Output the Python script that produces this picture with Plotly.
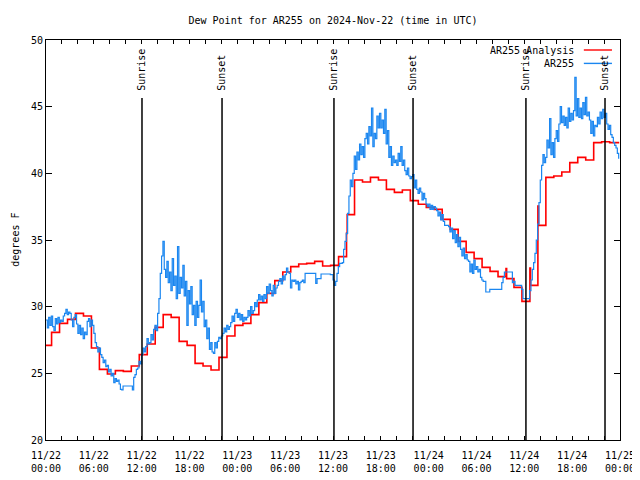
import pandas as pd
import plotly.graph_objects as go

BASE = pd.Timestamp("2024-11-22 00:00")

# Observed dew point (AR255), 10-minute samples, one row per hour (deg F)
blue_vals = [
    29.0, 28.4, 29.2, 28.6, 29.3, 28.5,
    28.2, 29.1, 28.7, 29.2, 28.8, 29.0,
    28.9, 29.3, 29.5, 29.8, 29.4, 29.6,
    29.5, 29.0, 28.5, 29.2, 29.4, 28.7,
    28.0, 28.6, 27.9, 28.4, 27.6, 28.1,
    27.9, 28.9, 29.1, 28.5, 29.0, 28.6,
    28.0, 27.3, 27.0, 26.6, 26.9, 26.4,
    26.2, 25.8, 26.0, 25.5, 25.6, 25.1,
    25.3, 24.8, 25.0, 24.3, 24.6, 24.4,
    24.5, 24.2, 23.8, 23.75, 24.05, 24.05,
    24.05, 24.05, 24.05, 24.05, 24.05, 23.75,
    24.7, 24.9, 25.3, 25.4, 25.9, 25.7,
    26.4, 26.9, 26.6, 27.0, 27.6, 27.2,
    27.3, 27.9, 27.5, 28.3, 28.6, 28.2,
    29.5, 30.6, 32.5, 33.8, 34.9, 32.8,
    32.2, 33.4, 31.8, 32.6, 31.2, 33.6,
    31.6, 32.3, 30.6, 34.5, 31.0, 32.2,
    31.4, 33.1, 30.8, 31.9, 28.6, 31.2,
    30.2, 31.5, 29.4, 30.1, 28.6, 30.4,
    29.2, 30.1, 32.0, 29.6, 30.4, 28.5,
    29.0, 27.6, 28.4, 26.8, 27.3, 26.6,
    26.5, 27.3, 26.9, 27.4, 27.7, 27.6,
    27.8, 28.0, 28.4, 28.1, 28.6, 28.3,
    28.5, 28.8, 29.3, 28.9, 29.5, 29.8,
    29.2, 29.5, 29.0, 29.4, 28.9, 29.2,
    29.0, 29.2, 29.7, 29.3, 30.0, 29.5,
    29.7, 30.3, 30.0, 30.5, 30.9, 30.5,
    30.8, 30.4, 30.9, 30.6, 31.5, 31.0,
    31.7, 31.2, 30.8, 31.6, 31.0, 31.4,
    31.6, 31.9, 32.1, 31.7, 32.3, 32.0,
    32.4, 32.9, 32.6, 32.5, 31.4, 32.0,
    31.9, 32.0, 31.7, 31.9, 31.25, 31.8,
    31.9, 32.0, 31.8, 32.5, 32.5, 32.5,
    32.5, 32.5, 32.5, 32.5, 32.5, 31.75,
    32.1, 32.1, 32.1, 32.45, 32.45, 32.45,
    32.45, 32.45, 32.45, 32.45, 32.4, 32.4,
    32.0, 31.6, 31.9, 32.5, 33.0, 33.25,
    33.25, 33.3, 34.3, 34.9, 35.5, 37.0,
    38.3, 39.5, 39.0, 40.0, 41.3, 40.3,
    41.6, 41.0, 42.2, 41.4, 42.0, 41.2,
    42.6, 43.0, 42.2, 43.5, 42.8, 44.9,
    42.0, 43.0, 42.6, 44.3, 43.4, 44.5,
    43.4, 44.0, 43.0, 44.8, 42.2, 43.2,
    41.2, 42.0, 40.6, 41.3, 40.8, 41.0,
    40.6, 41.5, 40.9, 42.0, 40.6, 41.0,
    40.2, 39.9, 40.4, 39.8, 39.6, 39.75,
    39.9, 38.9, 39.5, 38.8, 38.5, 38.9,
    38.6, 38.0, 38.5, 38.1, 37.7, 37.5,
    37.7, 37.3, 37.6, 37.3, 37.5, 37.4,
    37.2, 36.8, 37.1, 36.5, 36.9, 36.4,
    36.1, 36.1, 36.1, 36.0, 35.6, 35.9,
    35.1, 35.7, 34.8, 35.4, 34.5, 35.2,
    34.3, 33.8, 34.4, 33.6, 33.9, 33.5,
    33.4, 32.6, 33.2, 32.5, 33.5, 32.8,
    33.0, 32.6, 32.8, 32.2, 32.0, 31.9,
    31.9, 31.1, 31.1, 31.1, 31.3, 31.3,
    31.3, 31.3, 31.3, 31.3, 31.3, 31.3,
    31.3, 31.8, 32.2, 32.6, 32.6, 32.6,
    32.6, 32.6, 32.6, 31.8, 31.9, 31.6,
    31.6, 31.6, 31.6, 31.6, 31.3, 30.6,
    30.6, 30.6, 30.6, 30.6, 31.2, 32.0,
    32.8, 33.3, 34.0, 35.0, 36.2, 37.8,
    39.5, 40.6, 41.4, 40.8, 41.2, 42.5,
    41.9, 44.1, 41.4, 42.3, 41.2, 42.6,
    43.2, 42.4, 43.7, 45.0, 43.8, 44.3,
    43.6, 44.2, 43.4, 44.9, 43.9, 44.5,
    44.0, 44.7, 47.2, 44.3, 45.6, 44.2,
    44.9, 44.1, 45.3, 44.4, 45.7, 44.3,
    44.6, 44.0, 43.0, 43.9, 42.8, 43.6,
    43.5, 44.2, 43.7, 44.6, 44.1, 44.8,
    44.2, 44.5, 43.7, 43.3, 43.6, 42.9,
    42.7, 42.3, 42.1, 41.9, 41.5, 41.1,
]
blue_hours = [i / 6 for i in range(len(blue_vals))]

# Analysis dew point (AR255 Analysis): hours after 11/22 00:00 and values (deg F)
red_hours = [
    -0.3, 0.7, 1.7, 2.7, 3.7, 4.7, 5.7, 6.7, 7.7, 8.7, 9.7, 10.7, 11.7, 12.7,
    13.7, 14.7, 15.7, 16.7, 17.7, 18.7, 19.7, 20.7, 21.7, 22.7, 23.7, 24.7,
    25.7, 26.7, 27.7, 28.7, 29.7, 30.7, 31.7, 32.7, 33.7, 34.7, 35.7, 36.7,
    37.7, 37.78, 38.7, 39.7, 40.7, 41.7, 42.7, 43.7, 44.7, 45.7, 46.7, 47.7,
    48.7, 49.7, 50.7, 51.7, 52.7, 53.7, 54.7, 55.7, 56.7, 57.7, 57.78, 58.7,
    59.7, 60.7, 60.78, 61.7, 61.78, 62.7, 63.7, 64.7, 65.7, 66.7, 67.7, 68.7,
    69.7, 70.7, 71.7, 71.9,
]
red_vals = [
    27.1, 28.07, 28.75, 29.05, 29.5, 29.3, 26.9, 25.3, 24.95, 25.2, 25.15, 25.55, 26.4, 27.2,
    28.45, 29.4, 29.2, 27.4, 27.1, 25.75, 25.55, 25.25, 26.2, 27.8, 28.6, 28.75,
    29.4, 30.3, 31.0, 31.95, 32.6, 33.0, 33.2, 33.25, 33.4, 33.05, 33.1, 33.75,
    35.5, 36.9, 39.5, 39.35, 39.7, 39.5, 38.8, 38.57, 38.75, 37.95, 37.68, 37.45,
    37.3, 36.55, 35.8, 34.9, 34.07, 33.6, 32.95, 32.65, 32.25, 32.85, 32.1, 31.45,
    30.4, 32.9, 31.6, 37.55, 36.1, 39.7, 39.8, 40.1, 40.8, 41.2, 41.0, 42.3,
    42.37, 42.3, 42.3, 42.3,
]

# Sunrise / sunset markers (hours after 11/22 00:00)
sun_hours = [12.04, 22.08, 36.12, 46.04, 60.2, 70.12]
sun_labels = ["Sunrise", "Sunset", "Sunrise", "Sunset", "Sunrise", "Sunset"]

y_ticks = [20, 25, 30, 35, 40, 45, 50]


def to_time(hours):
    return [BASE + pd.Timedelta(hours=h) for h in hours]


FONT = "DejaVu Sans Mono"
FS = 10
RED = "#ff0000"
BLUE = "#1a86f0"

# the page body has an 8px margin; size the figure so the plot lands where the reference has it
W, H = 632, 472

fig = go.Figure()
fig.add_trace(go.Scatter(
    x=to_time(red_hours), y=red_vals, mode="lines", line_shape="hv",
    line=dict(color=RED, width=1.6), name="AR255 Analysis", showlegend=False,
))
fig.add_trace(go.Scatter(
    x=to_time(blue_hours), y=blue_vals, mode="lines", line_shape="hv",
    line=dict(color=BLUE, width=1.2), name="AR255", showlegend=False,
))

for h, lab in zip(sun_hours, sun_labels):
    t = BASE + pd.Timedelta(hours=h)
    fig.add_shape(type="line", xref="x", yref="paper", x0=t, x1=t, y0=0, y1=0.855,
                  line=dict(color="black", width=1.5))
    fig.add_annotation(x=t, xref="x", y=0.868, yref="paper", text=lab, textangle=-90,
                       showarrow=False, xanchor="center", yanchor="bottom",
                       font=dict(family=FONT, size=FS, color="black"))

# legend (gnuplot style: text right-aligned, then line sample)
for i, (lab, col) in enumerate([("AR255 Analysis", RED), ("AR255", BLUE)]):
    yy = 0.975 - i * 0.0335
    fig.add_annotation(x=0.924, xref="paper", y=yy, yref="paper", text=lab,
                       showarrow=False, xanchor="right", yanchor="middle",
                       font=dict(family=FONT, size=FS, color="black"))
    fig.add_shape(type="line", xref="paper", yref="paper", x0=0.937, x1=0.986,
                  y0=yy, y1=yy, line=dict(color=col, width=1.4))

fig.add_annotation(x=-0.0545, xref="paper", y=0.5, yref="paper", text="degrees F",
                   textangle=-90, showarrow=False, xanchor="center", yanchor="middle",
                   font=dict(family=FONT, size=FS, color="black"))

fig.update_layout(
    width=W, height=H,
    margin=dict(l=38, r=20, t=32, b=40, autoexpand=False),
    paper_bgcolor="white", plot_bgcolor="white",
    font=dict(family=FONT, size=FS, color="black"),
    title=dict(text="Dew Point for AR255 on 2024-Nov-22 (time in UTC)",
               x=0.5, xref="paper", xanchor="center", y=1 - 12 / H, yanchor="middle",
               font=dict(family=FONT, size=FS, color="black")),
)
fig.update_xaxes(
    type="date", automargin=False,
    range=[BASE, BASE + pd.Timedelta(hours=72)],
    tick0=BASE, dtick=6 * 3600 * 1000, tickformat="%m/%d<br>%H:%M",
    ticks="inside", ticklen=4, tickcolor="black", ticklabelstandoff=6,
    minor=dict(dtick=2 * 3600 * 1000, ticks="inside", ticklen=4, tickcolor="black"),
    showline=True, linecolor="black", linewidth=1, mirror="allticks",
    showgrid=False, zeroline=False,
    tickfont=dict(family=FONT, size=FS),
)
fig.update_yaxes(
    automargin=False,
    range=[20, 50], tickvals=y_ticks,
    ticks="inside", ticklen=6, tickcolor="black",
    showline=True, linecolor="black", linewidth=1, mirror="allticks",
    showgrid=False, zeroline=False,
    tickfont=dict(family=FONT, size=FS),
)

fig.write_html("out.html")
